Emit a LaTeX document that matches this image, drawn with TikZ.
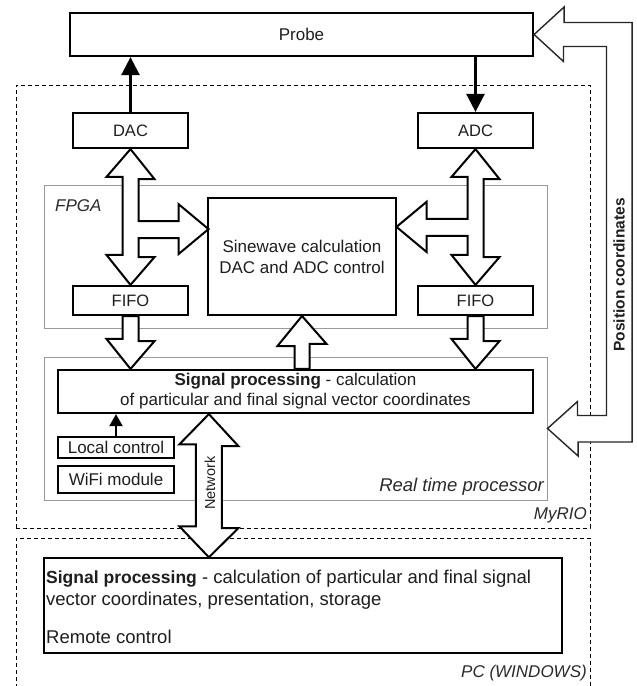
\documentclass[tikz,border=0pt]{standalone}
\usepackage{fontspec}
\setmainfont{Liberation Sans}
\usetikzlibrary{arrows.meta,calc}
\definecolor{txtc}{HTML}{1E1E1E}
\definecolor{grpc}{HTML}{9A9A9A}
\definecolor{lblc}{HTML}{2A2A2A}
\begin{document}
\begin{tikzpicture}[x=1pt,y=-1pt,
  box/.style={draw=black, line width=2.2pt, fill=white, inner sep=0pt, align=center,
    font=\fontsize{17}{21}\selectfont, text=txtc},
  thinbox/.style={draw=black, line width=1.4pt, fill=white, inner sep=0pt},
  grp/.style={draw=grpc, line width=1pt, fill=white, inner sep=0pt},
  dashbox/.style={draw=black, line width=0.9pt, dash pattern=on 4pt off 3pt},
  lbl/.style={inner sep=0pt, font=\fontsize{17}{21}\selectfont\itshape, text=lblc},
  pctxt/.style={inner sep=0pt, anchor=west, text height=13pt, text depth=4pt,
    font=\fontsize{18.5}{22}\selectfont, text=txtc},
  blk/.style={draw=black, line width=2pt, fill=white, line join=miter},
  posblk/.style={draw=black!85, line width=1.4pt, fill=white, line join=miter},
  sig/.style={draw=black, line width=2.5pt, -{Triangle[length=18pt,width=18pt]}},
  sigsmall/.style={draw=black, line width=2pt, -{Triangle[length=12pt,width=13pt]}}
]
\useasboundingbox (0,0) rectangle (637,686);

% outer dashed containers
\node[dashbox, minimum width=574, minimum height=443, inner sep=0pt] (myrio) at (303,306.5) {};
\draw[dashbox] (16,688) -- (16,538) -- (590,538) -- (590,688);

% group boxes
\node[grp, minimum width=503, minimum height=143] (fpga) at (295.5,256.5) {};
\node[grp, minimum width=503, minimum height=143] (rt) at (295.5,428.5) {};

% main boxes
\node[box, minimum width=463, minimum height=43] (probe) at (301.5,34.5) {Probe};
\node[box, minimum width=115, minimum height=35, font=\fontsize{16.5}{20}\selectfont] (dac) at (130.5,130.5) {DAC};
\node[box, minimum width=115, minimum height=35, font=\fontsize{16.5}{20}\selectfont] (adc) at (475.5,130.5) {ADC};
\node[box, line width=2pt, minimum width=188, minimum height=117] (sine) at (302,256.5) {Sinewave calculation\\DAC and ADC control};
\node[box, minimum width=115, minimum height=29, font=\fontsize{16.5}{20}\selectfont] (fifol) at (130.5,300.5) {FIFO};
\node[box, minimum width=115, minimum height=29, font=\fontsize{16.5}{20}\selectfont] (fifor) at (475.5,300.5) {FIFO};
\node[box, minimum width=475, minimum height=43, font=\fontsize{17}{20}\selectfont] (sp) at (295.5,391.5)
  {\textbf{Signal processing} - calculation\\of particular and final signal vector coordinates};
\node[box, minimum width=116, minimum height=21] (local) at (116,447.5) {Local control};
\node[box, minimum width=116, minimum height=27] (wifi) at (116,479.5) {WiFi module};
\node[thinbox, minimum width=518, minimum height=95] (pcbox) at (303,605.5) {};

% PC box text
\node[pctxt] (pcl1) at (46,578.5) {{\fontsize{17.5}{22}\selectfont\bfseries Signal processing} - calculation of particular and final signal};
\node[pctxt] (pcl2) at (46,600.5) {vector coordinates, presentation, storage};
\node[pctxt] (pcl3) at (46,638.5) {Remote control};

% container labels
\node[lbl, anchor=west] (fpgalbl) at (55,206) {FPGA};
\node[lbl, anchor=east, font=\fontsize{18.5}{22}\selectfont\itshape] (rtlbl) at (544,487) {Real time processor};
\node[lbl, anchor=east] (myriolbl) at (587,515) {MyRIO};
\node[lbl, anchor=east] (pclbl) at (587,673) {PC (WINDOWS)};

% signal arrows
\draw[sig] (dac.north) -- (dac.north |- probe.south);
\draw[sig] (probe.south -| adc.north) -- (adc.north);
\draw[sigsmall] (local.north) -- (local.north |- sp.south);

% DAC <-> FIFO with branch to sine
\draw[blk] (dac.south) -- ++(24,30) -- ++(-16,0) -- ++(0,42) -- ++(40,0) -- ++(0,-17)
  -- ++(30,25) -- ++(-30,25) -- ++(0,-16) -- ++(-40,0) -- ++(0,19) -- ++(16,0)
  -- (fifol.north) -- ++(-24,-30) -- ++(16,0) -- ++(0,-78) -- ++(-16,0) -- cycle;

% ADC <-> FIFO with branch to sine
\draw[blk] (adc.south) -- ++(24,30) -- ++(-16,0) -- ++(0,78) -- ++(16,0)
  -- (fifor.north) -- ++(-24,-30) -- ++(16,0) -- ++(0,-19) -- ++(-41,0) -- ++(0,16)
  -- ++(-30,-25) -- ++(30,-25) -- ++(0,17) -- ++(41,0) -- ++(0,-42) -- ++(-16,0) -- cycle;

% FIFO -> signal processing
\draw[blk] ($(fifol.south)+(-8,0)$) -- ++(16,0) -- ++(0,25) -- ++(16,0)
  -- (fifol.south |- sp.north) -- ++(-24,-30) -- ++(16,0) -- cycle;
\draw[blk] ($(fifor.south)+(-8,0)$) -- ++(16,0) -- ++(0,25) -- ++(16,0)
  -- (fifor.south |- sp.north) -- ++(-24,-30) -- ++(16,0) -- cycle;

% signal processing -> sine
\draw[blk] ($(sp.north -| sine.south)+(-7.5,0)$) -- ++(15,0) -- ++(0,-25) -- ++(17,0)
  -- (sine.south) -- ++(-24.5,30) -- ++(17,0) -- cycle;

% network double arrow
\coordinate (nett) at ($(sp.south west)+(152,0)$);
\draw[blk] (nett) -- ++(29.5,32) -- ++(-16.5,0) -- ++(0,82) -- ++(16.5,0)
  -- (nett |- pcbox.north) -- ++(-29.5,-31) -- ++(16.5,0) -- ++(0,-82) -- ++(-16.5,0) -- cycle;
\node[inner sep=0pt, rotate=90, font=\fontsize{14.5}{17}\selectfont, text=txtc] (netlbl) at (210,483) {Network};

% position coordinates arrow
\draw[posblk] (probe.east) -- ++(30,-27.5) -- ++(0,15.5) -- ++(68,0) -- ++(0,419.5)
  -- ++(-54,0) -- ++(0,14) -- (rt.east) -- ++(30,-27) -- ++(0,14) -- ++(29,0)
  -- ++(0,-369) -- ++(-43,0) -- ++(0,15) -- cycle;
\node[inner sep=0pt, rotate=90, font=\fontsize{15.5}{18}\selectfont\bfseries, text=txtc] (poslbl) at (619,275) {Position coordinates};

\end{tikzpicture}
\end{document}
